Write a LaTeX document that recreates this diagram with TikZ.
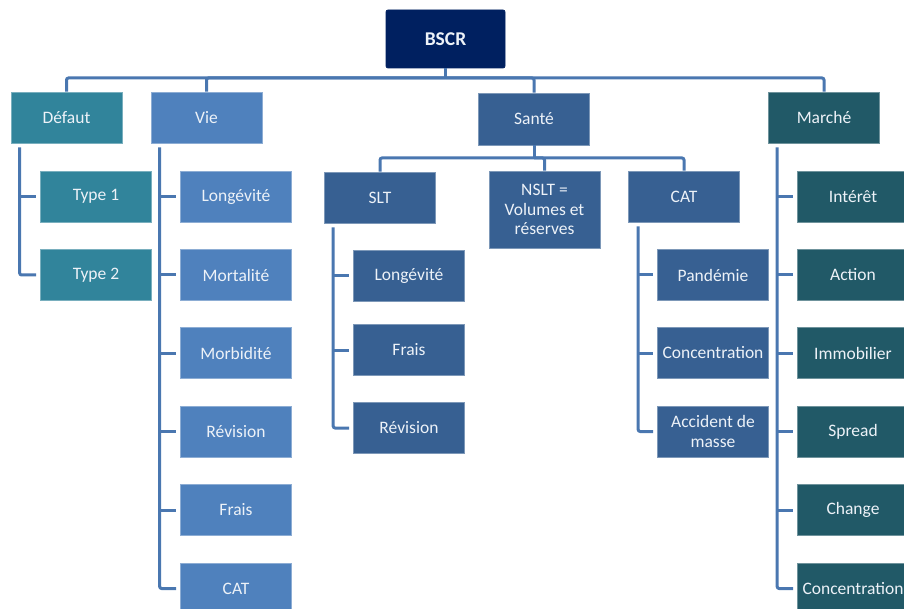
\documentclass[tikz,border=0pt]{standalone}
\usepackage{fontspec}
\setmainfont{Carlito}
\definecolor{navy}{HTML}{002060}
\definecolor{tealA}{HTML}{31849B}
\definecolor{blueA}{HTML}{4F81BD}
\definecolor{blueB}{HTML}{376092}
\definecolor{tealB}{HTML}{215967}
\definecolor{lineC}{HTML}{4A77B0}
\definecolor{txt}{HTML}{EDF2F8}
\tikzset{
  box/.style={rectangle, minimum width=111pt, minimum height=51pt, inner sep=1pt,
    align=center, text=txt, font=\fontsize{17.5}{19.5}\selectfont, line width=0.7pt},
  defbox/.style={box, fill=tealA, draw=tealA!65!white},
  viebox/.style={box, fill=blueA, draw=blueA!65!white},
  santebox/.style={box, fill=blueB, draw=blueB!65!white},
  marchebox/.style={box, fill=tealB, draw=tealB!65!white},
  conn/.style={draw=lineC, line width=3pt, rounded corners=2pt},
}
\begin{document}
\begin{tikzpicture}[x=1pt, y=-1pt]
\useasboundingbox (0,0) rectangle (904,609);
\clip (0,0) rectangle (904,609);

% root
\node[box, fill=navy, draw=navy, minimum width=119pt, minimum height=58pt,
  rounded corners=2pt, font=\fontsize{19.5}{21}\selectfont\bfseries] (bscr) at (445.5,39) {BSCR};

% first level
\node[defbox] (defaut) at (66.5,117.5) {Défaut};
\node[viebox] (vie) at (206.5,117.5) {Vie};
\node[santebox, minimum height=52pt] (sante) at (534,119) {Santé};
\node[marchebox] (marche) at (824,117.5) {Marché};

% Défaut
\node[defbox] (type1) at (96,196.5) {Type 1};
\node[defbox] (type2) at (96,275) {Type 2};

% Vie
\node[viebox] (vlong) at (236,196.5) {Longévité};
\node[viebox] (vmort) at (236,275) {Mortalité};
\node[viebox] (vmorb) at (236,353) {Morbidité};
\node[viebox] (vrev) at (236,431.5) {Révision};
\node[viebox] (vfrais) at (236,510) {Frais};
\node[viebox] (vcat) at (236,588.5) {CAT};

% Santé
\node[santebox] (slt) at (380,197.5) {SLT};
\node[santebox, minimum height=77pt] (nslt) at (544.5,209.5) {NSLT =\\Volumes et\\réserves};
\node[santebox] (scat) at (684,196.5) {CAT};
\node[santebox] (slong) at (409,275.5) {Longévité};
\node[santebox] (sfrais) at (409,350) {Frais};
\node[santebox] (srev) at (409,428) {Révision};
\node[santebox] (pand) at (713,275) {Pandémie};
\node[santebox] (sconc) at (713,353) {Concentration};
\node[santebox] (acc) at (713,431.5) {Accident de\\masse};

% Marché
\node[marchebox] (inter) at (853,196.5) {Intérêt};
\node[marchebox] (action) at (853,275) {Action};
\node[marchebox] (immo) at (853,353) {Immobilier};
\node[marchebox] (spread) at (853,431.5) {Spread};
\node[marchebox] (change) at (853,510) {Change};
\node[marchebox] (mconc) at (853,588.5) {Concentration};

% top bus
\coordinate (bus) at (bscr.south |- 0,78);
\draw[conn] (bscr.south) -- (bus);
\draw[conn] (defaut.north) |- (bus) -| (marche.north);
\draw[conn] (vie.north) |- (bus);
\draw[conn] (sante.north) |- (bus);

% Santé bus
\coordinate (sbus) at (sante.south |- 0,158);
\draw[conn] (sante.south) -- (sbus);
\draw[conn] (slt.north) |- (sbus) -| (scat.north);
\draw[conn] (nslt.north) |- (sbus);

% vertical spines
\coordinate (dsp) at ([shift={(9pt,-4pt)}]defaut.south west);
\coordinate (vsp) at ([shift={(9pt,-4pt)}]vie.south west);
\coordinate (ssp) at ([shift={(9pt,-4pt)}]slt.south west);
\coordinate (csp) at ([shift={(10pt,-4pt)}]scat.south west);
\coordinate (msp) at ([shift={(9pt,-4pt)}]marche.south west);

\draw[conn] (dsp) |- ([xshift=-4pt]type2.west);
\draw[conn] (dsp |- type1.west) -- ([xshift=-4pt]type1.west);

\draw[conn] (vsp) |- ([xshift=-4pt]vcat.west);
\foreach \n in {vlong,vmort,vmorb,vrev,vfrais}
  \draw[conn] (vsp |- \n.west) -- ([xshift=-4pt]\n.west);

\draw[conn] (ssp) |- ([xshift=-4pt]srev.west);
\foreach \n in {slong,sfrais}
  \draw[conn] (ssp |- \n.west) -- ([xshift=-4pt]\n.west);

\draw[conn] (csp) |- ([xshift=-4pt]acc.west);
\foreach \n in {pand,sconc}
  \draw[conn] (csp |- \n.west) -- ([xshift=-4pt]\n.west);

\draw[conn] (msp) |- ([xshift=-4pt]mconc.west);
\foreach \n in {inter,action,immo,spread,change}
  \draw[conn] (msp |- \n.west) -- ([xshift=-4pt]\n.west);
\end{tikzpicture}
\end{document}
